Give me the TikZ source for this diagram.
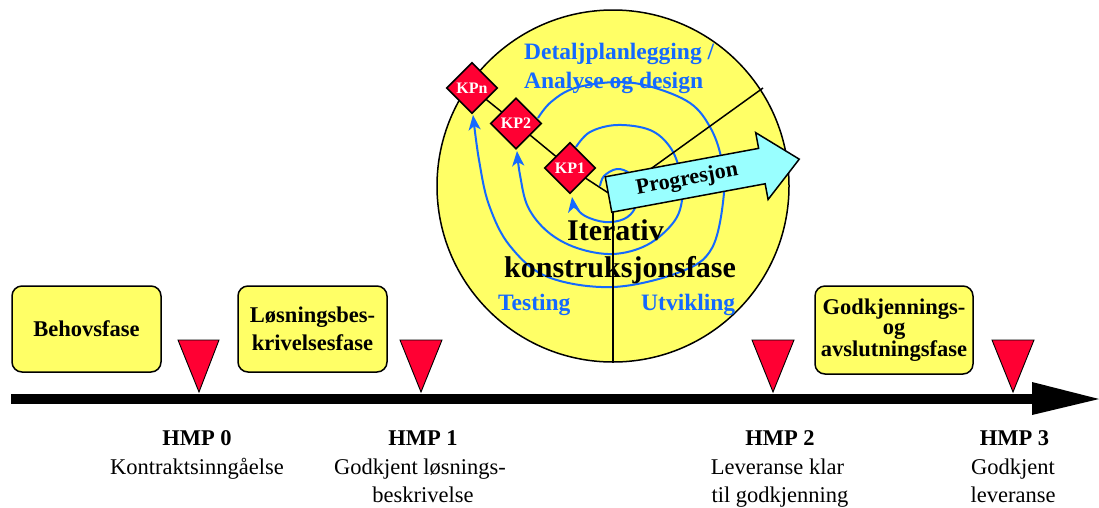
\documentclass[tikz,border=0pt]{standalone}
\usepackage{fontspec}
\setmainfont{Liberation Serif}
\usetikzlibrary{shapes.geometric,arrows.meta}
\definecolor{yel}{RGB}{255,255,102}
\definecolor{kpred}{RGB}{255,0,51}
\definecolor{sblue}{RGB}{20,105,255}
\definecolor{cyanarrow}{RGB}{153,255,255}
\begin{document}
\begin{tikzpicture}[x=1pt,y=-1pt,
  phasebox/.style={draw=black, line width=1.5pt, fill=yel, rounded corners=10pt, align=center, inner sep=0pt, font=\fontsize{22.5}{28}\selectfont\bfseries},
  milestone/.style={fill=kpred, draw=black, line width=0.9pt},
  kp/.style={diamond, draw=black, line width=1.6pt, fill=kpred, text=white, inner sep=0pt, minimum width=51pt, minimum height=51pt, font=\fontsize{16}{18}\selectfont\bfseries},
  spiral/.style={sblue, line width=2pt, -{Stealth[length=15pt,width=12pt,inset=4pt]}},
  axisline/.style={black, line width=1.5pt},
  hmp/.style={anchor=base, inner sep=0pt, font=\fontsize{22.5}{27}\selectfont\bfseries},
  desc/.style={anchor=base, inner sep=0pt, font=\fontsize{22.5}{27}\selectfont},
  bluelab/.style={sblue, anchor=base west, inner sep=0pt, font=\fontsize{23.5}{28}\selectfont\bfseries},
  biglab/.style={anchor=base, inner sep=0pt, font=\fontsize{30}{36}\selectfont\bfseries}]
\useasboundingbox (0,0) rectangle (1099,507);

% big circle
\fill[yel, draw=black, line width=1.5pt] (613,186) circle[radius=176pt];

% spiral loops
\draw[spiral] plot[smooth, tension=0.6] coordinates {(600,186) (604,176) (617,169) (630,174) (637,190) (635,208) (624,219) (605,222) (585,216) (575,206) (572,197)};
\draw[spiral] plot[smooth, tension=0.6] coordinates {(576,147) (590,132) (617,125) (650,130) (670,147) (680,172) (682,200) (673,223) (647,245) (613,254) (577,248) (548,232) (528,207) (520,175) (517,151)};
\draw[spiral] plot[smooth, tension=0.6] coordinates {(538,118) (551,102) (575,88) (617,82) (652,87) (690,103) (710,127) (721,157) (724,193) (712,248) (680,272) (613,287) (548,277) (510,246) (489,205) (479,160) (473,115)};

% axis lines
\coordinate (O) at (613,196);
\coordinate (ur) at (763,88);
\coordinate (dn) at (613,362);
\coordinate (cKPn) at (472,88);
\coordinate (cKP2) at (516,123.5);
\coordinate (cKP1) at (570,168);
\draw[axisline] (cKPn) -- (cKP2) -- (cKP1) -- (O);
\draw[axisline] (O) -- (ur);
\draw[axisline] (O) -- (dn);

% control points
\node[kp] (kpn) at (cKPn) {KPn};
\node[kp] (kp2) at (cKP2) {KP2};
\node[kp] (kp1) at (cKP1) {KP1};

% progression arrow
\begin{scope}[shift={(608.5,194.5)}, rotate=10.5]
  \draw[fill=cyanarrow, line width=1.5pt, line join=miter] (0,-18) -- (156,-18) -- (156,-34) -- (194,0) -- (156,34) -- (156,18) -- (0,18) -- cycle;
  \node[transform shape, inner sep=0pt, font=\fontsize{22}{24}\selectfont\bfseries] (prog) at (80,0) {Progresjon};
\end{scope}

% texts in circle
\node[bluelab] (det) at (524,59) {Detaljplanlegging /};
\node[bluelab] (ana) at (524,88) {Analyse og design};
\node[biglab] (iter) at (615.5,240) {Iterativ};
\node[biglab] (konst) at (620,277) {konstruksjonsfase};
\node[bluelab] (test) at (498,310) {Testing};
\node[bluelab] (utv) at (641,310) {Utvikling};

% timeline
\fill[black] (11,394) rectangle (1033,404);
\fill[black] (1032,382) -- (1099,399) -- (1032,415) -- cycle;

% phase boxes
\node[phasebox, minimum width=149pt, minimum height=86pt] (beh) at (86.5,329) {Behovsfase};
\node[phasebox, minimum width=149pt, minimum height=86pt] (los) at (312.5,329) {Løsningsbes-\\krivelsesfase};
\node[phasebox, minimum width=158pt, minimum height=88pt, font=\fontsize{22.5}{20}\selectfont\bfseries] (godk) at (894,330) {Godkjennings-\\og\\avslutningsfase};

% milestones
\draw[milestone] (178,340) -- (219,340) -- (199,392) -- cycle;
\draw[milestone] (400,340) -- (442,340) -- (421,392) -- cycle;
\draw[milestone] (752,340) -- (794,340) -- (773,392) -- cycle;
\draw[milestone] (992,340) -- (1034,340) -- (1013,392) -- cycle;

% milestone labels
\node[hmp] (h0) at (197,445) {HMP 0};
\node[desc] (h0a) at (197,474) {Kontraktsinngåelse};
\node[hmp] (h1) at (423,445) {HMP 1};
\node[desc] (h1a) at (420,474) {Godkjent løsnings-};
\node[desc] (h1b) at (423,502) {beskrivelse};
\node[hmp] (h2) at (780,445) {HMP 2};
\node[desc] (h2a) at (777.5,474) {Leveranse klar};
\node[desc] (h2b) at (780,502) {til godkjenning};
\node[hmp] (h3) at (1014.5,445) {HMP 3};
\node[desc] (h3a) at (1013,474) {Godkjent};
\node[desc] (h3b) at (1013,502) {leveranse};
\end{tikzpicture}
\end{document}
